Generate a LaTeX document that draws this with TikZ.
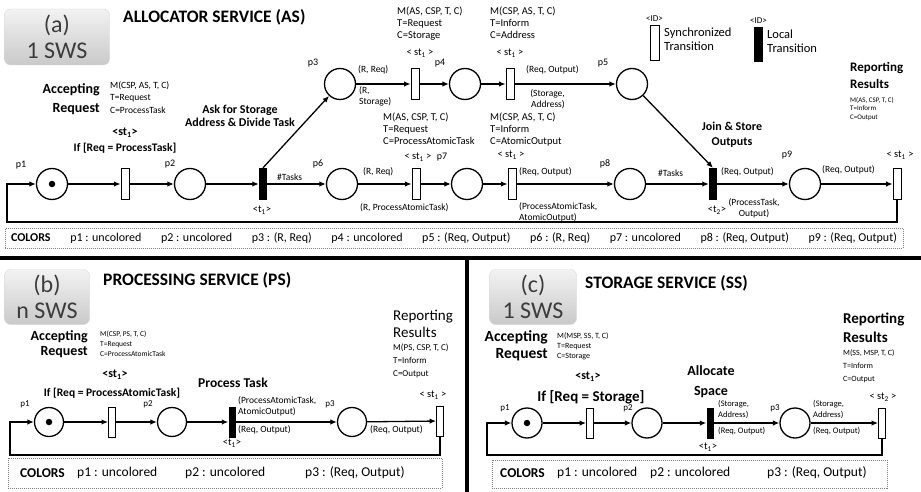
\documentclass[tikz,border=0pt]{standalone}
\usepackage{fontspec}
\setmainfont{Carlito}
\usetikzlibrary{arrows.meta,positioning,calc}
\definecolor{txtgray}{RGB}{60,60,60}
\newcommand{\fsz}[2]{\fontsize{#1}{#2}\selectfont}
\newcommand{\sub}[1]{\textsubscript{#1}}
\tikzset{
  plc/.style={draw, circle, line width=1.3pt, minimum size=31pt, inner sep=0pt},
  syt/.style={draw, line width=0.9pt, fill=white, minimum width=8pt, minimum height=31pt, inner sep=0pt},
  lct/.style={fill=black, minimum width=8pt, minimum height=32pt, inner sep=0pt},
  tok/.style={fill=black, circle, minimum size=6.5pt, inner sep=0pt},
  arc/.style={line width=1.3pt, -{Latex[length=6.5pt,width=5.5pt]}},
  plab/.style={font=\fsz{10}{12}, inner sep=0pt},
  albl/.style={font=\fsz{9.5}{11}, align=left, anchor=west, inner sep=0pt},
  mblk/.style={font=\fsz{10.5}{12}, align=left, anchor=north west, inner sep=0pt},
  act/.style={font=\bfseries\fsz{14}{19}, align=right, anchor=east, inner sep=0pt},
  svc/.style={font=\bfseries\fsz{17.5}{20}, anchor=west, inner sep=0pt},
  stl/.style={font=\fsz{10.5}{12}, inner sep=0pt},
  sws/.style={rounded corners=6pt, top color=gray!10, bottom color=gray!42, draw=gray!30,
    align=center, font=\fsz{24}{26}, text=txtgray, inner sep=0pt},
  clrbox/.style={draw=gray, dash pattern=on 1pt off 1pt, inner sep=0pt},
  divider/.style={line width=4pt},
}
\begin{document}
\begin{tikzpicture}[x=1pt, y=-1pt]
    \useasboundingbox (0,0) rectangle (921,492);
    % (a) allocator service
    \node[sws, minimum width=105pt, minimum height=56pt] (swsA) at (57,37) {(a)\\1 SWS};
    \node[svc] (ttlA) at (123,17) {ALLOCATOR SERVICE (AS)};
    \node[syt, minimum width=9pt, minimum height=35pt] (lgS) at (654.5,42.5) {};
    \node[font=\fsz{9}{11}, above=3pt of lgS, inner sep=0pt] (lgSid) {<ID>};
    \node[font=\fsz{12.5}{14}, align=left, anchor=west, inner sep=0pt] (lgStx) at (664,39) {Synchronized\\Transition};
    \node[lct, minimum width=9pt, minimum height=35pt] (lgL) at (758.5,44.5) {};
    \node[font=\fsz{9}{11}, above=3pt of lgL, inner sep=0pt] (lgLid) {<ID>};
    \node[font=\fsz{12.5}{14}, align=left, anchor=west, inner sep=0pt] (lgLtx) at (767,41) {Local\\Transition};

    \node[act] (accA) at (100,99) {Accepting\\Request};
    \node[mblk, font=\fsz{9.5}{12.5}] (mA1) at (110,81) {M(CSP, AS, T, C)\\T=Request\\C=ProcessTask};
    \node[font=\bfseries\fsz{12}{13.5}, align=center, inner sep=0pt] (askA) at (240,116) {Ask for Storage\\Address \& Divide Task};
    \node[font=\bfseries\fsz{12}{12}, inner sep=0pt] (stlA1) at (125,133) {<st\sub{1}>};
    \node[font=\bfseries\fsz{11.5}{12}, inner sep=0pt] (grdA) at (125,148) {If [Req = ProcessTask]};

    \node[plc] (pA1) at (52,184) {};
    \node[tok] (tkA) at (pA1) {};
    \node[syt] (stA1) at (125,184) {};
    \node[plc] (pA2) at (190,184) {};
    \node[lct] (ltA1) at (263,184) {};
    \node[plc] (pA3) at (340,84) {};
    \node[syt] (stA2) at (415,84) {};
    \node[plc] (pA4) at (465,84) {};
    \node[syt] (stA3) at (510,84) {};
    \node[plc] (pA5) at (632,84) {};
    \node[plc] (pA6) at (342,184) {};
    \node[syt] (stA4) at (416,184) {};
    \node[plc] (pA7) at (467,184) {};
    \node[syt] (stA5) at (512,184) {};
    \node[plc] (pA8) at (630,184) {};
    \node[lct] (ltA2) at (713,184) {};
    \node[plc] (pA9) at (805,184) {};
    \node[syt] (stA6) at (897,184) {};

    \node[plab] (nA1) at (21,165) {p1};
    \node[plab] (nA2) at (170,164) {p2};
    \node[plab] (nA3) at (313,63) {p3};
    \node[plab] (nA4) at (440,63) {p4};
    \node[plab] (nA5) at (603,63) {p5};
    \node[plab] (nA6) at (318,164) {p6};
    \node[plab] (nA7) at (442,157) {p7};
    \node[plab] (nA8) at (605,164) {p8};
    \node[plab] (nA9) at (787,155) {p9};

    \node[mblk] (mA2) at (397,7) {M(AS, CSP, T, C)\\T=Request\\C=Storage};
    \node[mblk] (mA3) at (490,7) {M(CSP, AS, T, C)\\T=Inform\\C=Address};
    \node[stl] (stlA2) at (420,53) {< st\sub{1} >};
    \node[stl] (stlA3) at (510,53) {< st\sub{1} >};
    \node[mblk] (mA4) at (383,113) {M(AS, CSP, T, C)\\T=Request\\C=ProcessAtomicTask};
    \node[mblk] (mA5) at (490,113) {M(CSP, AS, T, C)\\T=Inform\\C=AtomicOutput};
    \node[stl] (stlA4) at (418,157) {< st\sub{1} >};
    \node[stl] (stlA5) at (511,155) {< st\sub{1} >};
    \node[stl] (tlA1) at (262,210) {<t\sub{1}>};
    \node[stl] (tlA2) at (717,210) {<t\sub{2}>};
    \node[stl] (stlA6) at (900,155) {< st\sub{1} >};
    \node[font=\bfseries\fsz{12}{15}, align=center, inner sep=0pt] (joinA) at (732,135) {Join \& Store\\Outputs};
    \node[font=\bfseries\fsz{13}{17}, align=left, anchor=west, inner sep=0pt] (repA) at (850,75.5) {Reporting\\Results};
    \node[mblk, font=\fsz{7}{8.5}] (mA6) at (850,97) {M(AS, CSP, T, C)\\T=Inform\\C=Output};

    \node[albl] (aA1) at (277,177) {\#Tasks};
    \node[albl] (aA2) at (358,70) {(R, Req)};
    \node[albl] (aA3) at (359,96.5) {(R,\\Storage)};
    \node[albl] (aA4) at (526,70) {(Req, Output)};
    \node[albl, align=right, anchor=east] (aA5) at (565,99) {(Storage,\\Address)};
    \node[albl] (aA6) at (363,172) {(R, Req)};
    \node[albl] (aA7) at (360,208) {(R, ProcessAtomicTask)};
    \node[albl] (aA8) at (519,172) {(Req, Output)};
    \node[albl] (aA9) at (519,212) {(ProcessAtomicTask,\\AtomicOutput)};
    \node[albl] (aA10) at (658,173) {\#Tasks};
    \node[albl] (aA11) at (721,172) {(Req, Output)};
    \node[albl, align=center, anchor=center] (aA12) at (754,208.5) {(ProcessTask,\\Output)};
    \node[albl] (aA13) at (822,170) {(Req, Output)};

    \draw[arc] (pA1) -- (stA1);
    \draw[arc] (stA1) -- (pA2);
    \draw[arc] (pA2) -- (ltA1);
    \draw[arc] (ltA1) -- (pA6);
    \draw[arc] (ltA1.north) -- (pA3);
    \draw[arc] (pA3) -- (stA2);
    \draw[arc] (stA2) -- (pA4);
    \draw[arc] (pA4) -- (stA3);
    \draw[arc] (stA3) -- (pA5);
    \draw[arc] (pA5) -- (ltA2.north);
    \draw[arc] (pA6) -- (stA4);
    \draw[arc] (stA4) -- (pA7);
    \draw[arc] (pA7) -- (stA5);
    \draw[arc] (stA5) -- (pA8);
    \draw[arc] (pA8) -- (ltA2);
    \draw[arc] (ltA2) -- (pA9);
    \draw[arc] (pA9) -- (stA6);
    \coordinate (loopA) at (7,222);
    \draw[arc] (stA6.south) |- (loopA) |- (pA1);

    \node[clrbox, minimum width=898pt, minimum height=20pt] (clrA) at (454,238.5)
      {\fsz{12}{13}\makebox[886pt]{\textbf{COLORS}\hfill p1 : uncolored\hfill p2 : uncolored\hfill p3 : (R, Req)\hfill
       p4 : uncolored\hfill p5 : (Req, Output)\hfill p6 : (R, Req)\hfill p7 : uncolored\hfill
       p8 : (Req, Output)\hfill p9 : (Req, Output)}};

    \draw[divider] (0,258) -- (921,258);
    \draw[divider] (467,258) -- (467,492);

    % (b) processing service
    \node[sws, minimum width=85pt, minimum height=55pt] (swsB) at (47,297) {(b)\\n SWS};
    \node[svc] (ttlB) at (103,280) {PROCESSING SERVICE (PS)};
    \node[act, font=\bfseries\fsz{14}{15}] (accB) at (88,344.5) {Accepting\\Request};
    \node[mblk, font=\fsz{7.5}{10}] (mB1) at (100,331) {M(CSP, PS, T, C)\\T=Request\\C=ProcessAtomicTask};
    \node[font=\fsz{15}{17}, align=left, anchor=west, inner sep=0pt] (repB) at (393,323.5) {Reporting\\Results};
    \node[mblk, font=\fsz{9}{13}] (mB2) at (393,344) {M(PS, CSP, T, C)\\T=Inform\\C=Output};
    \node[font=\bfseries\fsz{12}{12}, inner sep=0pt] (stlB1) at (115,375) {<st\sub{1}>};
    \node[font=\bfseries\fsz{11.5}{12}, inner sep=0pt] (grdB) at (112,393) {If [Req = ProcessAtomicTask]};
    \node[font=\bfseries\fsz{13.5}{14}, inner sep=0pt] (procB) at (233,383) {Process Task};

    \node[plc, minimum size=29pt] (pB1) at (49,422) {};
    \node[tok] (tkB) at (pB1) {};
    \node[syt, minimum width=7pt, minimum height=30pt] (stB1) at (112,422) {};
    \node[plc, minimum size=29pt] (pB2) at (172,422) {};
    \node[lct, minimum width=7pt, minimum height=31pt] (ltB1) at (232,422) {};
    \node[plc, minimum size=29pt] (pB3) at (352,422) {};
    \node[syt, minimum width=7pt, minimum height=30pt] (stB2) at (440,421) {};

    \node[plab, font=\fsz{9}{10}] (nB1) at (25,404) {p1};
    \node[plab, font=\fsz{9}{10}] (nB2) at (148,404) {p2};
    \node[plab, font=\fsz{9}{10}] (nB3) at (330,404) {p3};
    \node[albl] (aB1) at (238,406) {(ProcessAtomicTask,\\AtomicOutput)};
    \node[albl] (aB2) at (238,430) {(Req, Output)};
    \node[albl] (aB3) at (370,430) {(Req, Output)};
    \node[stl] (tlB1) at (232,443) {<t\sub{1}>};
    \node[stl] (stlB2) at (433,395) {< st\sub{1} >};

    \draw[arc] (pB1) -- (stB1);
    \draw[arc] (stB1) -- (pB2);
    \draw[arc] (pB2) -- (ltB1);
    \draw[arc] (ltB1) -- (pB3);
    \draw[arc] (pB3) -- (stB2);
    \coordinate (loopB) at (10,455);
    \draw[arc] (stB2.south) |- (loopB) |- (pB1);

    \node[clrbox, minimum width=434pt, minimum height=30pt] (clrB) at (225,473) {};
    \node[font=\bfseries\fsz{13.5}{14}, anchor=west, inner sep=0pt] (cB0) at (20,473) {COLORS};
    \node[font=\fsz{13.5}{14}, anchor=west, inner sep=0pt] (cB1) at (77,473) {p1 : uncolored};
    \node[font=\fsz{13.5}{14}, anchor=west, inner sep=0pt] (cB2) at (185,473) {p2 : uncolored};
    \node[font=\fsz{13.5}{14}, anchor=west, inner sep=0pt] (cB3) at (305,473) {p3 : (Req, Output)};

    % (c) storage service
    \node[sws, minimum width=87pt, minimum height=55pt] (swsC) at (533,297) {(c)\\1 SWS};
    \node[svc] (ttlC) at (585,283) {STORAGE SERVICE (SS)};
    \node[act, font=\bfseries\fsz{15.5}{17}] (accC) at (548,346) {Accepting\\Request};
    \node[mblk, font=\fsz{8}{10}] (mC1) at (557,332) {M(MSP, SS, T, C)\\T=Request\\C=Storage};
    \node[font=\bfseries\fsz{15}{19}, align=left, anchor=west, inner sep=0pt] (repC) at (843,327.5) {Reporting\\Results};
    \node[mblk, font=\fsz{8}{13}] (mC2) at (843,349) {M(SS, MSP, T, C)\\T=Inform\\C=Output};
    \node[font=\bfseries\fsz{12}{12}, inner sep=0pt] (stlC1) at (588,377) {<st\sub{1}>};
    \node[font=\bfseries\fsz{15}{16}, inner sep=0pt] (grdC) at (591,397) {If [Req = Storage]};
    \node[font=\bfseries\fsz{14}{20}, align=center, inner sep=0pt] (allC) at (711,382) {Allocate\\Space};

    \node[plc, minimum size=30pt] (pC1) at (527,423) {};
    \node[tok] (tkC) at (pC1) {};
    \node[syt, minimum width=7pt, minimum height=30pt] (stC1) at (590,423) {};
    \node[plc, minimum size=30pt] (pC2) at (647,423) {};
    \node[lct, minimum width=7pt, minimum height=31pt] (ltC1) at (710,423) {};
    \node[plc, minimum size=30pt] (pC3) at (795,423) {};
    \node[syt, minimum width=7pt, minimum height=30pt] (stC2) at (882,423) {};

    \node[plab, font=\fsz{9}{10}] (nC1) at (505,408) {p1};
    \node[plab, font=\fsz{9}{10}] (nC2) at (628,408) {p2};
    \node[plab, font=\fsz{9}{10}] (nC3) at (775,408) {p3};
    \node[albl, font=\fsz{8.5}{11}] (aC1) at (718,409) {(Storage,\\Address)};
    \node[albl, font=\fsz{8.5}{11}] (aC2) at (718,431) {(Req, Output)};
    \node[albl, font=\fsz{8.5}{11}] (aC3) at (813,409) {(Storage,\\Address)};
    \node[albl, font=\fsz{8.5}{11}] (aC4) at (813,431) {(Req, Output)};
    \node[stl] (tlC1) at (708,447) {<t\sub{1}>};
    \node[stl] (stlC2) at (883,397) {< st\sub{2} >};

    \draw[arc] (pC1) -- (stC1);
    \draw[arc] (stC1) -- (pC2);
    \draw[arc] (pC2) -- (ltC1);
    \draw[arc] (ltC1) -- (pC3);
    \draw[arc] (pC3) -- (stC2);
    \coordinate (loopC) at (487,455);
    \draw[arc] (stC2.south) |- (loopC) |- (pC1);

    \node[clrbox, minimum width=395pt, minimum height=28pt] (clrC) at (689.5,474) {};
    \node[font=\bfseries\fsz{13.5}{14}, anchor=west, inner sep=0pt] (cC0) at (500,473) {COLORS};
    \node[font=\fsz{13.5}{14}, anchor=west, inner sep=0pt] (cC1) at (557,473) {p1 : uncolored};
    \node[font=\fsz{13.5}{14}, anchor=west, inner sep=0pt] (cC2) at (650,473) {p2 : uncolored};
    \node[font=\fsz{13.5}{14}, anchor=west, inner sep=0pt] (cC3) at (767,473) {p3 : (Req, Output)};
\end{tikzpicture}
\end{document}
